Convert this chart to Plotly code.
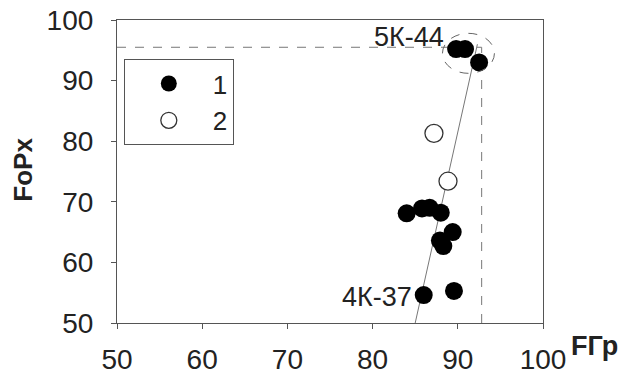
import plotly.graph_objects as go

# Data
x_filled = [89.8, 90.85, 92.5, 84.0, 85.8, 86.7, 88.0, 89.4, 87.9, 88.3, 86.0, 89.55]
y_filled = [95.2, 95.2, 93.0, 68.1, 68.9, 69.0, 68.2, 65.0, 63.6, 62.7, 54.6, 55.3]
x_open = [87.2, 88.85]
y_open = [81.3, 73.4]
trend_x = [85.0, 92.3]
trend_y = [50.0, 96.0]
ref_x = 92.8
ref_y = 95.5
x_ticks = [50, 60, 70, 80, 90, 100]
y_ticks = [50, 60, 70, 80, 90, 100]
labels = ["5К-44", "4К-37"]

FONT = "Arial, Liberation Sans, sans-serif"
AX = "#555555"

fig = go.Figure()
fig.add_trace(go.Scatter(x=trend_x, y=trend_y, mode="lines",
                         line=dict(color="#777777", width=1), showlegend=False, hoverinfo="skip"))
fig.add_trace(go.Scatter(x=x_filled, y=y_filled, mode="markers", name="1",
                         marker=dict(size=18, color="black", line=dict(width=0))))
fig.add_trace(go.Scatter(x=x_open, y=y_open, mode="markers", name="2",
                         marker=dict(size=18, color="white", line=dict(width=1.3, color="#333333"))))

# reference dashed lines
fig.add_shape(type="line", x0=50, x1=ref_x, y0=ref_y, y1=ref_y,
              line=dict(color="#777777", width=1, dash="dash"), layer="below")
fig.add_shape(type="line", x0=ref_x, x1=ref_x, y0=50, y1=ref_y,
              line=dict(color="#777777", width=1, dash="dash"), layer="below")
# dashed ellipse around the 5K-44 group
fig.add_shape(type="circle", x0=88.2, x1=94.3, y0=91.2, y1=97.8,
              line=dict(color="#666666", width=1, dash="dash"))

fig.add_annotation(x=88.6, y=97.15, text=labels[0], showarrow=False, xanchor="right",
                   yanchor="middle", font=dict(family=FONT, size=27, color="#222222"))
fig.add_annotation(x=84.9, y=54.3, text=labels[1], showarrow=False, xanchor="right",
                   yanchor="middle", font=dict(family=FONT, size=27, color="#222222"))

# axis titles
fig.add_annotation(xref="paper", yref="paper", x=1.062, y=-0.075, text="<b>FГр</b>",
                   showarrow=False, xanchor="left", yanchor="middle",
                   font=dict(family=FONT, size=27, color="#222222"))
fig.add_annotation(xref="paper", yref="paper", x=-0.22, y=0.507, text="<b>FoPx</b>",
                   showarrow=False, textangle=-90, xanchor="center", yanchor="middle",
                   font=dict(family=FONT, size=26, color="#222222"))

fig.update_layout(
    width=623, height=378,
    margin=dict(l=117, r=80, t=20, b=55, autoexpand=False),
    paper_bgcolor="white", plot_bgcolor="white",
    font=dict(family=FONT, size=28, color="#222222"),
    legend=dict(x=0.016, y=0.871, xanchor="left", yanchor="top",
                bordercolor=AX, borderwidth=1, bgcolor="white",
                font=dict(size=26), tracegroupgap=0, itemwidth=78),
)
fig.update_xaxes(range=[50, 100], tickvals=x_ticks, ticks="outside", ticklen=5,
                 tickcolor=AX, showline=True, linecolor=AX, linewidth=1.2, mirror=True,
                 showgrid=False, zeroline=False, ticklabelstandoff=6, automargin=False,
                 ticklabeloverflow="allow")
fig.update_yaxes(range=[50, 100], tickvals=y_ticks, ticks="outside", ticklen=5,
                 tickcolor=AX, showline=True, linecolor=AX, linewidth=1.2, mirror=True,
                 showgrid=False, zeroline=False, ticklabelstandoff=12, automargin=False,
                 ticklabeloverflow="allow")

fig.write_html("out.html", config={"displayModeBar": False},
               post_script="document.body.style.margin='0';document.body.style.overflow='hidden';")
